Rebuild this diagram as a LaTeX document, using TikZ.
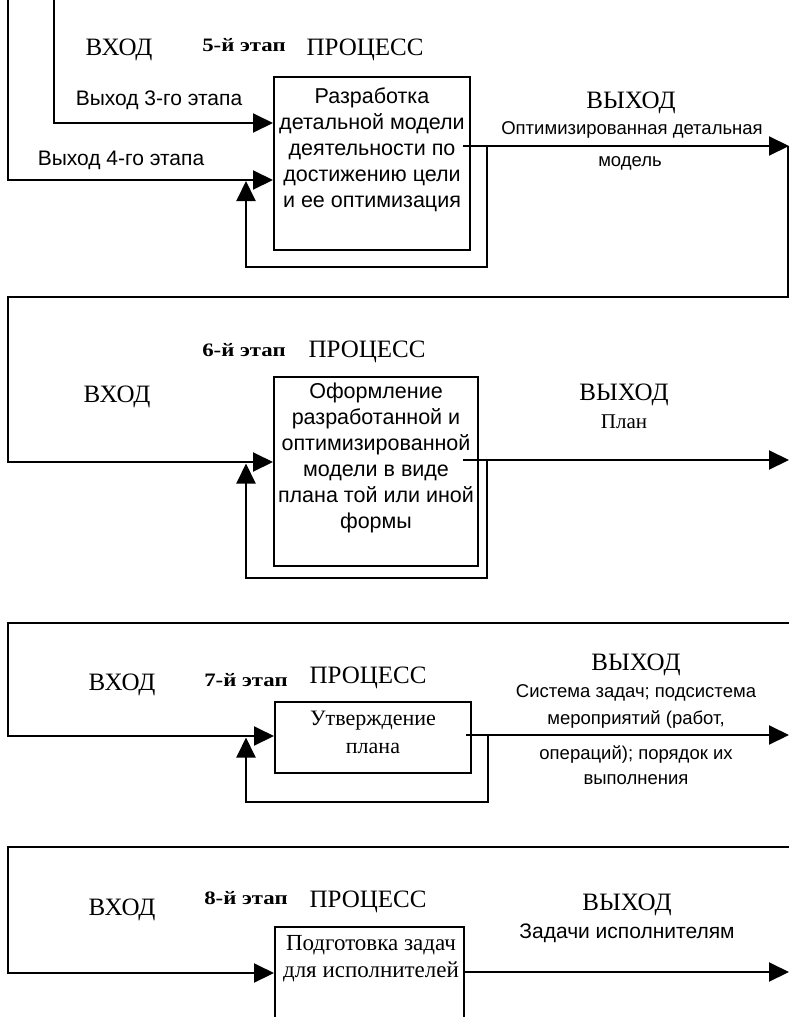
\documentclass[tikz,border=0pt]{standalone}
\usepackage{fontspec}
\setmainfont{Liberation Serif}
\newfontfamily\sansfont{Liberation Sans}
\newfontfamily\stagefont[FakeStretch=1.2]{Liberation Serif}
\usetikzlibrary{arrows.meta}

\begin{document}
\begin{tikzpicture}[x=1pt,y=-1pt,
  line/.style={line width=2pt, line join=miter},
  flow/.style={line, -{Triangle[length=20pt,width=19pt]}},
  procbox/.style={draw, line width=2pt, inner sep=0pt},
  head/.style={font=\fontsize{25}{28}\selectfont, inner sep=0pt},
  stage/.style={font=\stagefont\fontsize{19}{20}\selectfont\bfseries, inner sep=0pt},
  boxtext/.style={font=\sansfont\fontsize{21.5}{26}\selectfont, align=center, inner sep=0pt},
  serifbox/.style={font=\fontsize{22}{28}\selectfont, align=center, inner sep=0pt},
  note/.style={font=\sansfont\fontsize{21}{24}\selectfont, align=center, inner sep=0pt},
  small/.style={font=\sansfont\fontsize{18.5}{24}\selectfont, align=center, inner sep=0pt},
  plain/.style={font=\fontsize{21}{26}\selectfont, align=center, inner sep=0pt}
]
\clip (0,0) rectangle (789,1017);

% ---------- process boxes ----------
\node[procbox, minimum width=196pt, minimum height=173pt] (b1) at (372,163.5) {};
\node[procbox, minimum width=204pt, minimum height=189pt] (b2) at (376,471.5) {};
\node[procbox, minimum width=196pt, minimum height=71pt] (b3) at (373,737.5) {};
\node[procbox, minimum width=189pt, minimum height=120pt] (b4) at (369.5,987) {};

% ---------- Stage 5 ----------
\node[boxtext] (t1) at (372,150) {Разработка\\детальной модели\\деятельности по\\достижению цели\\и ее оптимизация};
\node[head] (in1) at (119,50) {ВХОД};
\node[stage] (st1) at (244,45) {5-й этап};
\node[head] (pr1) at (365,50) {ПРОЦЕСС};
\node[note] (x3) at (159,100) {Выход 3-го этапа};
\node[note] (x4) at (121,160) {Выход 4-го этапа};
\node[head] (out1) at (631,103) {ВЫХОД};
\node[small] (r1a) at (632,130) {Оптимизированная детальная};
\node[small] (r1b) at (630,163) {модель};

\coordinate (src3) at (54,0);
\coordinate (src4) at (8,0);
\coordinate (o1) at (463,146);
\coordinate (e1) at (789,146);
\coordinate (f1) at (487,146);
\draw[flow] (src3) |- (b1.west |- 0,123);
\draw[flow] (src4) |- (b1.west |- 0,180);
\draw[flow] (o1) -- (e1);
\draw[flow] (f1) |- (246,267) -- (246,181);

% link to stage 6
\coordinate (r1) at (787.5,146);
\coordinate (l2) at (8,297);
\draw[flow] (r1) |- (l2) |- (b2.west |- 0,462);

% ---------- Stage 6 ----------
\node[boxtext] (t2) at (376,457.5) {Оформление\\разработанной и\\оптимизированной\\модели в виде\\плана той или иной\\формы};
\node[head] (in2) at (117,397) {ВХОД};
\node[stage] (st2) at (244,350) {6-й этап};
\node[head] (pr2) at (367,352) {ПРОЦЕСС};
\node[head] (out2) at (624,395) {ВЫХОД};
\node[plain] (r2) at (624,422) {План};

\coordinate (o2) at (463,460);
\coordinate (e2) at (789,460);
\coordinate (f2) at (487,460);
\draw[flow] (o2) -- (e2);
\draw[flow] (f2) |- (246,578) -- (246,463.5);

% ---------- Stage 7 ----------
\coordinate (r3) at (789,623);
\coordinate (l3) at (8,623);
\draw[flow] (r3) -- (l3) |- (b3.west |- 0,736);
\node[serifbox] (t3) at (373,732.5) {Утверждение\\плана};
\node[head] (in3) at (122,685) {ВХОД};
\node[stage] (st3) at (246,680) {7-й этап};
\node[head] (pr3) at (368,678) {ПРОЦЕСС};
\node[head] (out3) at (636,665) {ВЫХОД};
\node[small] (r3a) at (636,693) {Система задач; подсистема};
\node[small] (r3b) at (636,720) {мероприятий (работ,};
\node[small] (r3c) at (636,755) {операций); порядок их};
\node[small] (r3d) at (636,780) {выполнения};

\coordinate (o3) at (466,735);
\coordinate (e3) at (789,735);
\coordinate (f3) at (488,735);
\draw[flow] (o3) -- (e3);
\draw[flow] (f3) |- (246,802) -- (246,737.5);

% ---------- Stage 8 ----------
\coordinate (r4) at (789,847);
\coordinate (l4) at (8,847);
\draw[flow] (r4) -- (l4) |- (b4.west |- 0,973);
\node[serifbox, font=\fontsize{23}{27}\selectfont] (t4) at (371,958.5) {Подготовка задач\\для исполнителей};
\node[head] (in4) at (122,910) {ВХОД};
\node[stage] (st4) at (246,898) {8-й этап};
\node[head] (pr4) at (368,902) {ПРОЦЕСС};
\node[head] (out4) at (627,905) {ВЫХОД};
\node[note] (r4a) at (627,933) {Задачи исполнителям};

\coordinate (e4) at (789,972);
\draw[flow] (b4.east |- 0,972) -- (e4);
\end{tikzpicture}
\end{document}
